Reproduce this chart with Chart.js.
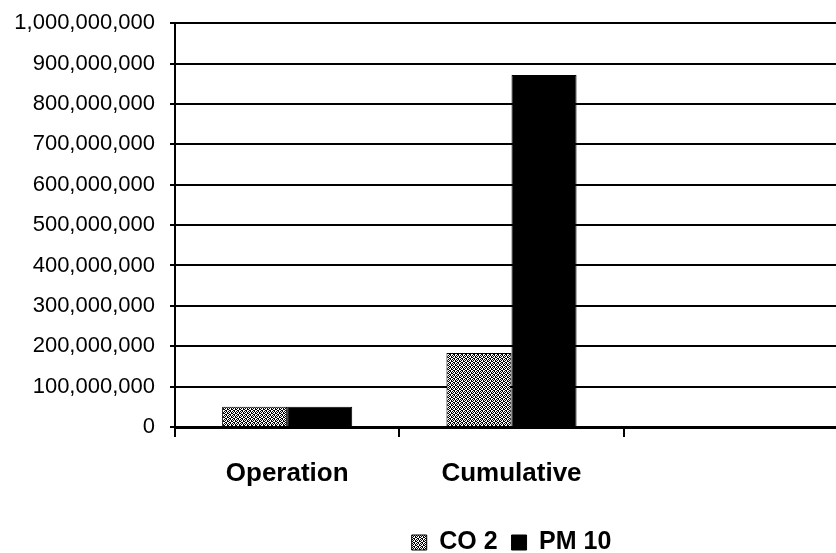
<!DOCTYPE html>
<html lang="en">
<head>
    <meta charset="UTF-8">
    <title>CO 2 / PM 10</title>
    <script src="https://cdn.jsdelivr.net/npm/chart.js@4.4.1/dist/chart.umd.min.js"></script>
    <style>
        html, body { margin: 0; padding: 0; overflow: hidden; background: #fff; }
        #wrap { position: absolute; left: 0; top: -5px; width: 850px; height: 570px; }
    </style>
</head>
<body>
    <div id="wrap"><canvas id="myChart"></canvas></div>

    <script>
        // data
        const categories = ['Operation', 'Cumulative', ''];
        const co2Values = [50000000, 183000000, null];
        const pm10Values = [50000000, 872000000, null];
        const yTicks = [0, 100000000, 200000000, 300000000, 400000000, 500000000,
            600000000, 700000000, 800000000, 900000000, 1000000000];

        const ctx = document.getElementById('myChart').getContext('2d');

        // stippled grey fill for CO 2
        function makeDither() {
            const c = document.createElement('canvas');
            c.width = 4;
            c.height = 4;
            const g = c.getContext('2d');
            g.fillStyle = '#fff';
            g.fillRect(0, 0, 4, 4);
            g.fillStyle = '#000';
            const dots = [[0, 0], [2, 0], [1, 1], [3, 1], [0, 2], [3, 2], [1, 3], [2, 3]];
            dots.forEach(d => g.fillRect(d[0], d[1], 1, 1));
            return ctx.createPattern(c, 'repeat');
        }
        const co2Fill = makeDither();

        new Chart(ctx, {
            type: 'bar',
            data: {
                labels: categories,
                datasets: [{
                    label: 'CO 2',
                    data: co2Values,
                    backgroundColor: co2Fill,
                    borderColor: '#000',
                    borderWidth: 1,
                    categoryPercentage: 0.58,
                    barPercentage: 1
                }, {
                    label: 'PM 10',
                    data: pm10Values,
                    backgroundColor: '#000',
                    borderColor: '#000',
                    borderWidth: 1,
                    categoryPercentage: 0.58,
                    barPercentage: 1
                }]
            },
            options: {
                responsive: true,
                maintainAspectRatio: false,
                animation: false,
                layout: { padding: { top: 18, right: 2, left: 0, bottom: 0 } },
                plugins: {
                    tooltip: { enabled: false },
                    legend: {
                        position: 'bottom',
                        fullSize: false,
                        labels: {
                            color: '#000',
                            boxWidth: 15,
                            boxHeight: 15,
                            padding: 14,
                            font: { family: 'Liberation Sans, Arial, sans-serif', size: 25, weight: 'bold' }
                        }
                    }
                },
                scales: {
                    x: {
                        afterFit: s => { s.height = 89; },
                        grid: {
                            drawOnChartArea: false,
                            drawTicks: true,
                            tickLength: 10,
                            color: '#000',
                            lineWidth: 2
                        },
                        border: { display: true, color: '#000', width: 3 },
                        ticks: {
                            color: '#000',
                            padding: 21,
                            font: { family: 'Liberation Sans, Arial, sans-serif', size: 26, weight: 'bold' }
                        }
                    },
                    y: {
                        min: 0,
                        max: 1000000000,
                        afterFit: s => { s.width = 175; },
                        afterBuildTicks: s => { s.ticks = yTicks.map(v => ({ value: v })); },
                        grid: {
                            color: '#000',
                            lineWidth: 2,
                            tickLength: 5
                        },
                        border: { display: true, color: '#000', width: 2 },
                        ticks: {
                            color: '#000',
                            padding: 15,
                            font: { family: 'Liberation Sans, Arial, sans-serif', size: 22 },
                            callback: v => v.toLocaleString('en-US')
                        }
                    }
                }
            }
        });
    </script>
</body>
</html>
